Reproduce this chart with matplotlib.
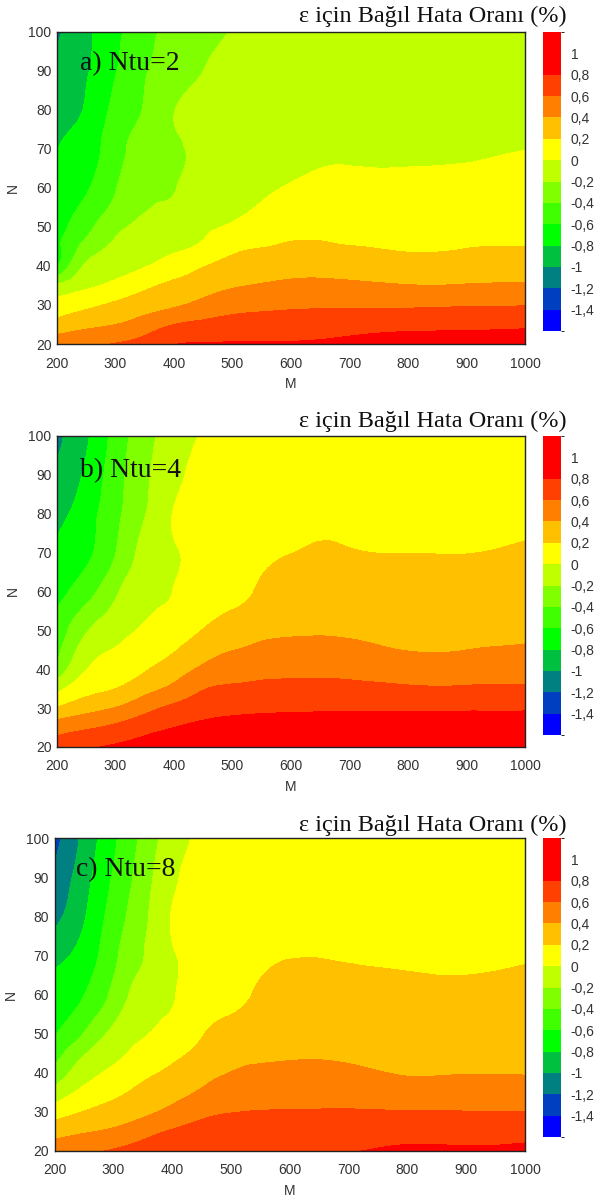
import numpy as np
import matplotlib
matplotlib.use("Agg")
import matplotlib.pyplot as plt
import matplotlib.tri as mtri
from matplotlib.colors import ListedColormap, BoundaryNorm
from matplotlib.cm import ScalarMappable

# ---------------- data ----------------
M = [200, 250, 300, 350, 400, 450, 500, 550, 600, 650, 700, 800, 900, 1000]
N = [20, 25, 30, 35, 40, 45, 50, 60, 70, 80, 90, 100]

# each inner list is one M column, values for N = 20 ... 100
err_ntu2 = [
    [0.52, 0.28, 0.061, -0.156, -0.613, -0.644, -0.676, -0.74, -0.803, -0.876, -0.949, -1.03],
    [0.56, 0.352, 0.152, -0.032, -0.168, -0.331, -0.458, -0.621, -0.699, -0.777, -0.818, -0.844],
    [0.61, 0.40, 0.236, 0.047, -0.07, -0.161, -0.252, -0.412, -0.48, -0.547, -0.61, -0.651],
    [0.68, 0.49, 0.309, 0.157, -0.009, -0.081, -0.154, -0.244, -0.33, -0.385, -0.415, -0.458],
    [0.79, 0.60, 0.374, 0.242, 0.087, -0.03, -0.093, -0.21, -0.26, -0.205, -0.31, -0.344],
    [0.81, 0.645, 0.459, 0.314, 0.19, 0.03, -0.025, -0.065, -0.107, -0.153, -0.2, -0.264],
    [0.82, 0.672, 0.528, 0.379, 0.261, 0.144, 0.02, -0.06, -0.085, -0.118, -0.159, -0.195],
    [0.82, 0.681, 0.553, 0.414, 0.301, 0.193, 0.10, -0.025, -0.06, -0.095, -0.13, -0.165],
    [0.82, 0.69, 0.569, 0.439, 0.326, 0.221, 0.147, 0.01, -0.04, -0.08, -0.11, -0.14],
    [0.83, 0.70, 0.574, 0.444, 0.33, 0.223, 0.155, 0.04, -0.025, -0.06, -0.09, -0.12],
    [0.86, 0.715, 0.575, 0.434, 0.316, 0.204, 0.15, 0.046, -0.02, -0.05, -0.08, -0.11],
    [0.90, 0.742, 0.573, 0.407, 0.272, 0.179, 0.134, 0.043, -0.02, -0.05, -0.08, -0.10],
    [0.90, 0.755, 0.586, 0.411, 0.293, 0.192, 0.145, 0.052, -0.015, -0.04, -0.07, -0.09],
    [0.92, 0.766, 0.593, 0.421, 0.306, 0.20, 0.16, 0.079, -0.002, -0.03, -0.06, -0.08],
]
err_ntu4 = [
    [0.70, 0.506, 0.218, -0.06, -0.333, -0.457, -0.529, -0.653, -0.76, -0.859, -0.953, -1.04],
    [0.77, 0.575, 0.325, 0.131, -0.006, -0.108, -0.218, -0.484, -0.64, -0.693, -0.764, -0.83],
    [0.83, 0.64, 0.41, 0.20, 0.106, 0.013, -0.069, -0.233, -0.405, -0.45, -0.483, -0.523],
    [0.89, 0.73, 0.537, 0.329, 0.185, 0.108, 0.031, -0.062, -0.138, -0.21, -0.24, -0.272],
    [0.95, 0.80, 0.646, 0.451, 0.303, 0.188, 0.128, 0.007, -0.03, 0.01, -0.05, -0.109],
    [0.97, 0.85, 0.72, 0.588, 0.436, 0.311, 0.205, 0.155, 0.12, 0.085, 0.05, 0.015],
    [0.98, 0.87, 0.753, 0.63, 0.511, 0.395, 0.29, 0.17, 0.14, 0.11, 0.08, 0.05],
    [0.98, 0.88, 0.767, 0.648, 0.538, 0.433, 0.359, 0.225, 0.17, 0.14, 0.11, 0.08],
    [0.98, 0.88, 0.774, 0.656, 0.55, 0.452, 0.38, 0.291, 0.198, 0.16, 0.13, 0.10],
    [0.98, 0.88, 0.779, 0.66, 0.552, 0.456, 0.383, 0.301, 0.218, 0.17, 0.14, 0.11],
    [0.98, 0.88, 0.778, 0.652, 0.544, 0.444, 0.377, 0.296, 0.207, 0.17, 0.14, 0.11],
    [0.98, 0.89, 0.776, 0.627, 0.502, 0.395, 0.355, 0.277, 0.199, 0.16, 0.13, 0.11],
    [0.98, 0.89, 0.778, 0.622, 0.507, 0.399, 0.358, 0.279, 0.198, 0.16, 0.13, 0.11],
    [0.98, 0.89, 0.782, 0.628, 0.519, 0.42, 0.37, 0.293, 0.217, 0.17, 0.14, 0.12],
]
err_ntu8 = [
    [0.52, 0.32, 0.10, -0.129, -0.337, -0.499, -0.616, -0.72, -0.866, -1.055, -1.161, -1.27],
    [0.56, 0.382, 0.207, 0.05, -0.087, -0.221, -0.393, -0.605, -0.72, -0.819, -0.883, -0.947],
    [0.62, 0.431, 0.28, 0.151, 0.04, -0.056, -0.143, -0.349, -0.45, -0.515, -0.58, -0.639],
    [0.70, 0.52, 0.358, 0.253, 0.152, 0.057, -0.019, -0.115, -0.208, -0.254, -0.302, -0.35],
    [0.78, 0.62, 0.45, 0.333, 0.238, 0.155, 0.08, -0.02, -0.03, 0.01, -0.04, -0.093],
    [0.79, 0.67, 0.551, 0.423, 0.33, 0.244, 0.19, 0.15, 0.125, 0.09, 0.06, 0.03],
    [0.79, 0.70, 0.594, 0.499, 0.404, 0.335, 0.26, 0.17, 0.14, 0.12, 0.09, 0.06],
    [0.79, 0.70, 0.607, 0.521, 0.434, 0.372, 0.326, 0.225, 0.17, 0.14, 0.11, 0.08],
    [0.79, 0.70, 0.61, 0.526, 0.442, 0.381, 0.344, 0.27, 0.195, 0.16, 0.13, 0.10],
    [0.79, 0.70, 0.612, 0.528, 0.445, 0.383, 0.346, 0.271, 0.196, 0.16, 0.13, 0.10],
    [0.79, 0.70, 0.613, 0.522, 0.431, 0.375, 0.337, 0.262, 0.188, 0.15, 0.12, 0.10],
    [0.84, 0.724, 0.609, 0.485, 0.388, 0.349, 0.31, 0.233, 0.185, 0.16, 0.13, 0.10],
    [0.83, 0.717, 0.604, 0.493, 0.393, 0.352, 0.31, 0.227, 0.18, 0.155, 0.13, 0.10],
    [0.85, 0.728, 0.605, 0.488, 0.391, 0.354, 0.318, 0.244, 0.19, 0.16, 0.13, 0.10],
]

levels = [-1.6, -1.4, -1.2, -1.0, -0.8, -0.6, -0.4, -0.2, 0.0, 0.2, 0.4, 0.6, 0.8, 1.0, 1.2]
level_colors = ["#0000FF", "#0040C0", "#008080", "#00C040", "#00FF00", "#40FF00", "#80FF00",
                "#C0FF00", "#FFFF00", "#FFC000", "#FF8000", "#FF4000", "#FF0000", "#FF0000"]
cbar_ticks = [1.0, 0.8, 0.6, 0.4, 0.2, 0.0, -0.2, -0.4, -0.6, -0.8, -1.0, -1.2, -1.4]
cbar_labels = ["1", "0,8", "0,6", "0,4", "0,2", "0", "-0,2", "-0,4", "-0,6", "-0,8", "-1", "-1,2", "-1,4"]
xticks = [200, 300, 400, 500, 600, 700, 800, 900, 1000]
yticks = [20, 30, 40, 50, 60, 70, 80, 90, 100]
panel_labels = ["a) Ntu=2", "b) Ntu=4", "c) Ntu=8"]
title_text = "ε için Bağıl Hata Oranı (%)"

# ---------------- layout ----------------
W, H = 607, 1198
fig = plt.figure(figsize=(W / 100, H / 100), dpi=100)


def frac(l, t, r, b):
    return [l / W, 1 - b / H, (r - l) / W, (b - t) / H]


layout = [
    dict(ax=(57, 32, 525, 344), cb=(543, 32, 561, 331), ty=16, lpos=(0.05, 0.90)),
    dict(ax=(57, 436, 525, 747), cb=(543, 436, 561, 735), ty=421, lpos=(0.05, 0.89)),
    dict(ax=(54.5, 838, 525, 1151), cb=(543, 838, 561, 1137), ty=825, lpos=(0.045, 0.90)),
]

cmap = ListedColormap(level_colors)
norm = BoundaryNorm(levels, cmap.N)
tick_col = "#333333"
sans = "Liberation Sans"
serif = "Liberation Serif"

# grid in units of 100 (M) and 10 (N) for a well-shaped triangulation
Mg, Ng = np.meshgrid(M, N)
tri_norm = mtri.Triangulation(Mg.ravel() / 100.0, Ng.ravel() / 10.0)
refiner = mtri.UniformTriRefiner(tri_norm)

for data, label, lay in zip([err_ntu2, err_ntu4, err_ntu8], panel_labels, layout):
    Z = np.array(data).T  # rows = N, cols = M
    interp = mtri.CubicTriInterpolator(tri_norm, Z.ravel(), kind="min_E")
    tri_f, z_f = refiner.refine_field(Z.ravel(), triinterpolator=interp, subdiv=4)
    tri_plot = mtri.Triangulation(tri_f.x * 100.0, tri_f.y * 10.0, tri_f.triangles)

    ax = fig.add_axes(frac(*lay["ax"]))
    ax.tricontourf(tri_plot, z_f, levels=levels, colors=level_colors, extend="neither",
                   antialiased=False)
    ax.set_xlim(200, 1000)
    ax.set_ylim(20, 100)
    ax.set_xticks(xticks)
    ax.set_yticks(yticks)
    ax.tick_params(length=0, labelsize=10, colors=tick_col)
    ax.tick_params(axis="x", pad=9)
    ax.tick_params(axis="y", pad=4)
    for t in ax.get_xticklabels() + ax.get_yticklabels():
        t.set_fontfamily(sans)
    for sp in ax.spines.values():
        sp.set_linewidth(1.0)
        sp.set_color("#222222")
    ax.set_xlabel("M", fontsize=10, family=sans, color=tick_col, labelpad=5)
    ax.set_ylabel("N", fontsize=10, family=sans, color=tick_col, labelpad=6)
    ax.text(lay["lpos"][0], lay["lpos"][1], label, transform=ax.transAxes,
            ha="left", va="center", fontsize=20, family=serif, color="#111111")

    cax = fig.add_axes(frac(*lay["cb"]))
    sm = ScalarMappable(norm=norm, cmap=cmap)
    cb = fig.colorbar(sm, cax=cax, ticks=cbar_ticks)
    cb.outline.set_visible(False)
    cax.set_yticklabels(cbar_labels)
    cax.tick_params(length=0, pad=7, labelsize=10, colors=tick_col)
    for t in cax.get_yticklabels():
        t.set_fontfamily(sans)
    fig.text(567 / W, 1 - lay["ty"] / H, title_text, ha="right", va="center",
             fontsize=17.5, family=serif, color="#111111")

fig.savefig("out.png", dpi=100)
